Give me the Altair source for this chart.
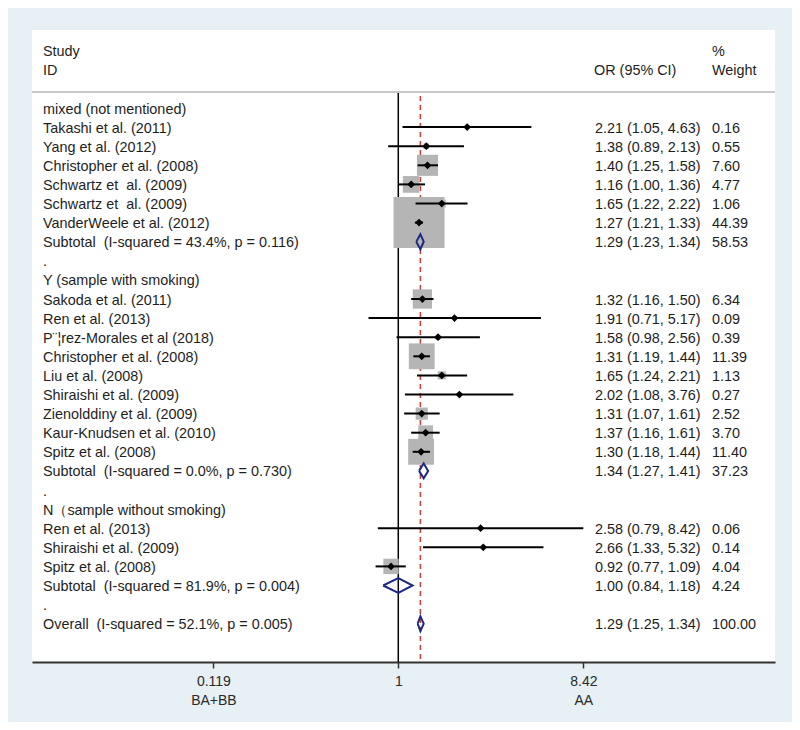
import altair as alt
import pandas as pd

# ---------------- data ----------------
NB = "\u00a0 "  # double space that survives SVG whitespace collapsing
labels = [
    "mixed (not mentioned)",
    "Takashi et al. (2011)",
    "Yang et al. (2012)",
    "Christopher et al. (2008)",
    f"Schwartz et{NB}al. (2009)",
    f"Schwartz et{NB}al. (2009)",
    "VanderWeele et al. (2012)",
    f"Subtotal{NB}(I-squared = 43.4%, p = 0.116)",
    ".",
    "Y (sample with smoking)",
    "Sakoda et al. (2011)",
    "Ren et al. (2013)",
    "P¨¦rez-Morales et al (2018)",
    "Christopher et al. (2008)",
    "Liu et al. (2008)",
    "Shiraishi et al. (2009)",
    "Zienolddiny et al. (2009)",
    "Kaur-Knudsen et al. (2010)",
    "Spitz et al. (2008)",
    f"Subtotal{NB}(I-squared = 0.0%, p = 0.730)",
    ".",
    "N（sample without smoking)",
    "Ren et al. (2013)",
    "Shiraishi et al. (2009)",
    "Spitz et al. (2008)",
    f"Subtotal{NB}(I-squared = 81.9%, p = 0.004)",
    ".",
    f"Overall{NB}(I-squared = 52.1%, p = 0.005)",
]
kinds = [
    "group", "study", "study", "study", "study", "study", "study", "pooled", "dot",
    "group", "study", "study", "study", "study", "study", "study", "study", "study", "study", "pooled", "dot",
    "group", "study", "study", "study", "pooled", "dot",
    "pooled",
]
est = [None, 2.21, 1.38, 1.40, 1.16, 1.65, 1.27, 1.29, None,
       None, 1.32, 1.91, 1.58, 1.31, 1.65, 2.02, 1.31, 1.37, 1.30, 1.34, None,
       None, 2.58, 2.66, 0.92, 1.00, None,
       1.29]
lo = [None, 1.05, 0.89, 1.25, 1.00, 1.22, 1.21, 1.23, None,
      None, 1.16, 0.71, 0.98, 1.19, 1.24, 1.08, 1.07, 1.16, 1.18, 1.27, None,
      None, 0.79, 1.33, 0.77, 0.84, None,
      1.25]
hi = [None, 4.63, 2.13, 1.58, 1.36, 2.22, 1.33, 1.34, None,
      None, 1.50, 5.17, 2.56, 1.44, 2.21, 3.76, 1.61, 1.61, 1.44, 1.41, None,
      None, 8.42, 5.32, 1.09, 1.18, None,
      1.34]
weight = [None, 0.16, 0.55, 7.60, 4.77, 1.06, 44.39, 58.53, None,
          None, 6.34, 0.09, 0.39, 11.39, 1.13, 0.27, 2.52, 3.70, 11.40, 37.23, None,
          None, 0.06, 0.14, 4.04, 4.24, None,
          100.00]

tick_values = [0.119, 1, 8.42]
tick_sides = ["BA+BB", "", "AA"]
overall_est = 1.29

# ---------------- tables ----------------
rows = pd.DataFrame({
    "row": list(range(len(labels))),
    "label": labels,
    "kind": kinds,
    "est": est,
    "lo": lo,
    "hi": hi,
    "weight": weight,
})
has = rows["est"].notna()
rows["ci_text"] = ""
rows.loc[has, "ci_text"] = rows[has].apply(
    lambda r: f"{r.est:.2f} ({r.lo:.2f}, {r.hi:.2f})", axis=1)
rows["w_text"] = ""
rows.loc[has, "w_text"] = rows[has].apply(lambda r: f"{r.weight:.2f}", axis=1)

studies = rows[rows["kind"] == "study"]
pooled = rows[rows["kind"] == "pooled"]

half_h = 0.39  # half-height of pooled diamonds, in row units
dia = []
for _, r in pooled.iterrows():
    pts = [(r.lo, r.row), (r.est, r.row - half_h), (r.hi, r.row),
           (r.est, r.row + half_h), (r.lo, r.row)]
    for i, (xv, yv) in enumerate(pts):
        dia.append({"g": int(r.row), "i": i, "x": xv, "y": yv})
dia = pd.DataFrame(dia)

FONT = "Liberation Sans"
FS = 14.4
TXT = "#1e1e1e"
DY = 1.5

xscale = alt.Scale(type="log", domain=[0.01474, 76.5], nice=False, zero=False)
yscale = alt.Scale(domain=[-4.084, 29.005], reverse=True, nice=False, zero=False)

side_map = " : ".join(
    f"datum.value == {v} ? [datum.label, '{s}']" for v, s in zip(tick_values, tick_sides) if s
) + " : datum.label"

base = alt.Chart(rows)

# vertical reference lines
ref1 = alt.Chart(pd.DataFrame({"x": [1]})).mark_rule(color="black", strokeWidth=1.5).encode(
    x=alt.X("x:Q", scale=xscale,
            axis=alt.Axis(values=tick_values, format=".3~g", labelExpr=side_map,
                          title=None, grid=False, domainColor="#333333", domainWidth=2,
                          tickColor="#333333", tickWidth=1.5, tickSize=6,
                          labelFont=FONT, labelFontSize=14, labelColor="#2a2a2a",
                          labelPadding=6, labelLineHeight=19, labelFlush=False)),
    y=alt.value(62), y2=alt.value(632),
)
ref_overall = alt.Chart(pd.DataFrame({"x": [overall_est]})).mark_rule(
    color="#cc3b33", strokeWidth=1.5, strokeDash=[5, 4]).encode(
    x=alt.X("x:Q", scale=xscale), y=alt.value(66), y2=alt.value(630))

sep = alt.Chart(pd.DataFrame({"x": [0]})).mark_rule(color="#c8c8c8", strokeWidth=2).encode(
    x=alt.value(0), x2=alt.value(743), y=alt.value(62))

squares = alt.Chart(studies).mark_square(filled=True, color="#b5b5b5", opacity=1).encode(
    x=alt.X("est:Q", scale=xscale),
    y=alt.Y("row:Q", scale=yscale, axis=None),
    size=alt.Size("weight:Q", scale=alt.Scale(type="linear", domain=[0, 44.39], range=[0, 2601]),
                  legend=None),
)
ci = alt.Chart(studies).mark_rule(color="black", strokeWidth=2).encode(
    x=alt.X("lo:Q", scale=xscale), x2="hi:Q",
    y=alt.Y("row:Q", scale=yscale, axis=None),
)
pts = alt.Chart(studies).mark_point(shape="diamond", filled=True, color="black", size=60, opacity=1).encode(
    x=alt.X("est:Q", scale=xscale),
    y=alt.Y("row:Q", scale=yscale, axis=None),
)
diamonds = alt.Chart(dia).mark_line(color="#1c2a86", strokeWidth=2, strokeJoin="miter").encode(
    x=alt.X("x:Q", scale=xscale),
    y=alt.Y("y:Q", scale=yscale, axis=None),
    order="i:Q",
    detail="g:N",
)

def col_text(field, xpx):
    return base.mark_text(align="left", baseline="middle", font=FONT, fontSize=FS,
                          color=TXT, dy=DY).encode(
        x=alt.value(xpx),
        y=alt.Y("row:Q", scale=yscale, axis=None),
        text=f"{field}:N",
    )

lab_t = col_text("label", 11)
ci_t = col_text("ci_text", 563)
w_t = col_text("w_text", 680)

hdr = pd.DataFrame({
    "text": ["Study", "ID", "OR (95% CI)", "%", "Weight"],
    "row": [-3, -2, -2, -3, -2],
    "px": [11, 11, 562, 680, 680],
})
hdr_t = alt.Chart(hdr).mark_text(align="left", baseline="middle", font=FONT, fontSize=FS,
                                 color=TXT, dy=DY).encode(
    x=alt.X("px:Q", scale=None),
    y=alt.Y("row:Q", scale=yscale, axis=None),
    text="text:N",
)

chart = alt.layer(
    ref1, ref_overall, sep, squares, ci, pts, diamonds, lab_t, ci_t, w_t, hdr_t
).resolve_scale(x="shared", y="shared").properties(
    width=743, height=632,
    autosize=alt.AutoSizeParams(type="none"),
    padding={"left": 24, "top": 22, "right": 17, "bottom": 60},
    background="#e7f0f4",
).configure_view(fill="white", stroke=None)

chart.save("out.html", embed_options={"renderer": "svg", "actions": False})
